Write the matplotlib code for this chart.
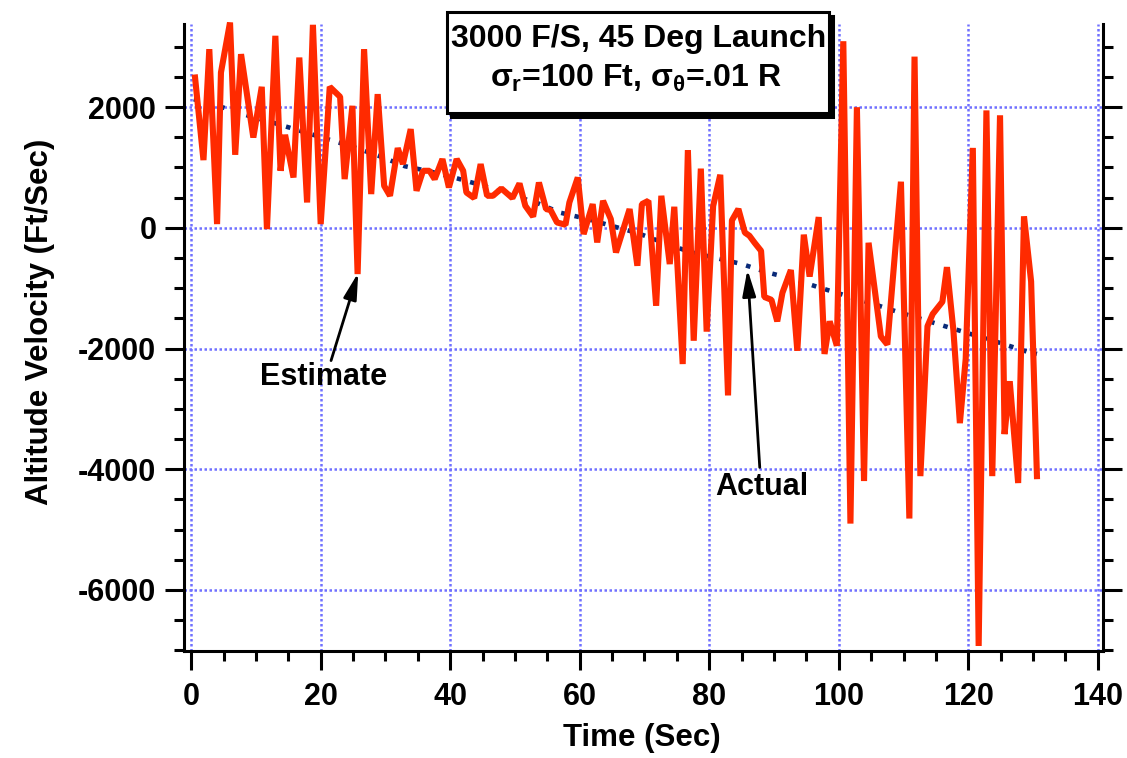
import matplotlib
matplotlib.use('Agg')
import matplotlib.pyplot as plt
from matplotlib.patches import Rectangle
from matplotlib.ticker import MultipleLocator

plt.rcParams['font.family'] = 'Liberation Sans'
plt.rcParams['font.weight'] = 'bold'
plt.rcParams['axes.unicode_minus'] = False
plt.rcParams['mathtext.fontset'] = 'custom'
plt.rcParams['mathtext.rm'] = 'Liberation Sans:bold'
plt.rcParams['mathtext.it'] = 'Liberation Sans:bold'
plt.rcParams['mathtext.bf'] = 'Liberation Sans:bold'

# actual altitude velocity (noisy)
t_act = [0.6, 1.9, 2.8, 4.0, 4.6, 6.0, 6.8, 7.7, 9.6, 10.9, 11.7, 13.0, 13.8, 14.5,
         15.8, 16.7, 17.9, 18.8, 20.0, 21.4, 23.0, 23.7, 24.9, 25.7, 26.7,
         27.8, 28.8, 29.8, 30.7, 31.9, 32.7, 33.9, 34.8, 35.8, 36.8, 37.6, 38.8,
         39.8, 41.0, 42.0, 42.5, 43.7, 44.7, 45.7, 46.6, 47.9, 49.6, 50.7, 51.6,
         52.8, 53.7, 54.8, 55.5, 56.5, 57.8, 58.4, 59.7, 60.6, 62.0, 62.7, 63.6,
         64.8, 65.6, 67.7, 68.9, 69.6, 70.6, 71.8, 72.6, 73.9, 74.6, 75.9, 76.7,
         77.6, 78.7, 79.6, 80.6, 81.7, 82.9, 83.5, 84.5, 85.5, 86.2, 87.0, 88.0,
         88.5, 89.6, 90.5, 91.3, 92.6, 93.6, 94.6, 95.5, 96.9, 97.8, 98.6, 99.7,
         100.7, 101.8, 102.8, 103.9, 104.6, 106.5, 107.5, 109.6, 110.9, 111.7,
         112.6, 113.7, 114.5, 116.0, 116.7, 117.7, 118.7, 119.6, 120.7, 121.6,
         122.8, 123.7, 124.9, 125.6, 126.4, 127.7, 128.6, 129.7, 130.6]
v_act = [2489, 1121, 2959, 61, 2572, 3400, 1209, 2876, 1495, 2335, -22, 3180, 944, 1540,
         833, 2820, 419, 3362, 61, 2335, 2169, 806, 2020, -767, 2959,
         558, 2214, 695, 530, 1320, 1055, 1634, 613, 944, 944, 806, 1138,
         668, 1138, 944, 585, 492, 1055, 530, 530, 651, 492, 734, 364,
         185, 750, 310, 293, 88, 50, 419, 833, -105, 392, -243, 447,
         144, -409, 310, -629, 392, 447, -1292, 530, -601, 348, -2257, 1287,
         -1871, 980, -1720, 359, 878, -2777, 122, 311, -80, -132, -248, -382,
         -1146, -1193, -1550, -1077, -700, -2037, -114, -808, 177, -2090, -1550, -1954,
         3090, -4900, 1997, -4195, -248, -1800, -1934, 763, -4816, 2835,
         -4114, -1631, -1429, -1225, -652, -1699, -3236, -2170, 1323, -6927,
         1944, -4114, 1863, -3418, -2542, -4228, 190, -889, -4114]

# filter estimate
t_est = [0.4, 5, 9, 13, 17, 21, 25, 29, 33, 37, 41, 45, 49, 53, 57, 61, 65, 69,
         73, 77, 81, 85, 89, 93, 97, 101, 105, 109, 113, 117, 121, 125, 129, 130.6]
v_est = [2130, 1990, 1850, 1730, 1600, 1470, 1340, 1190, 1020, 930, 820, 700, 550,
         430, 250, 150, 30, -90, -250, -400, -500, -600, -740, -850, -990, -1120,
         -1250, -1390, -1520, -1650, -1780, -1910, -2050, -2090]

x_ticks = [0, 20, 40, 60, 80, 100, 120, 140]
y_ticks = [-6000, -4000, -2000, 0, 2000]

fig = plt.figure(figsize=(11.27, 7.58), dpi=100)
ax = fig.add_axes([0.1633, 0.1412, 0.8154, 0.8271])

ax.plot(t_est, v_est, color='#0a2a78', lw=3.3, linestyle=(0, (1, 2.0)),
        dash_capstyle='butt', zorder=2)
ax.plot(t_act, v_act, color='#ff2a00', lw=4.4, solid_joinstyle='bevel',
        clip_on=False, zorder=3)

ax.set_xlim(-1.1, 140.8)
ax.set_ylim(-7010, 3375)
ax.set_xticks(x_ticks)
ax.set_yticks(y_ticks)
ax.xaxis.set_minor_locator(MultipleLocator(5))
ax.yaxis.set_minor_locator(MultipleLocator(500))

ax.set_axisbelow(True)
ax.grid(True, which='major', color='#7070ff', linestyle=(0, (1, 1)), linewidth=1.8)

ax.spines['top'].set_visible(False)
for s in ['left', 'right', 'bottom']:
    ax.spines[s].set_linewidth(2.2)
ax.tick_params(which='major', direction='out', length=14, width=2.2, labelsize=22)
ax.tick_params(which='minor', direction='out', length=7, width=2.2)
ax.tick_params(axis='y', which='both', right=True, labelright=False, pad=6)
ax.tick_params(axis='x', which='both', top=False, pad=8)

ax.set_xlabel('Time (Sec)', fontsize=22.5, fontweight='bold', va='center')
ax.xaxis.set_label_coords(0.498, -0.139)
ax.set_ylabel('Altitude Velocity (Ft/Sec)', fontsize=22.5, fontweight='bold', va='center')
ax.yaxis.set_label_coords(-0.157, 0.525)

# annotations
arrow = dict(arrowstyle='-|>,head_length=0.8,head_width=0.2', color='black', lw=2,
             mutation_scale=20, shrinkA=0, shrinkB=0)
ax.annotate('', xy=(25.8, -745), xytext=(21.6, -2200), arrowprops=arrow)
ax.text(20.4, -2467, 'Estimate', ha='center', va='center', fontsize=22, fontweight='bold')
ax.annotate('', xy=(85.9, -690), xytext=(87.8, -3970), arrowprops=arrow)
ax.text(88.1, -4290, 'Actual', ha='center', va='center', fontsize=22, fontweight='bold')

# title box with drop shadow
W, H = 1127, 758
bx, by, bw, bh = 447 / W, 1 - 113 / H, (829 - 447) / W, (113 - 12) / H
fig.add_artist(Rectangle((bx + 4 / W, by - 4 / H), bw, bh, transform=fig.transFigure,
                         facecolor='black', edgecolor='black', lw=2.2, zorder=5))
fig.add_artist(Rectangle((bx, by), bw, bh, transform=fig.transFigure,
                         facecolor='white', edgecolor='black', lw=2.2, zorder=6))
fig.text(639 / W, 1 - 47 / H, '3000 F/S, 45 Deg Launch', ha='center', va='baseline',
         fontsize=23, fontweight='bold', zorder=7)
fig.text(636 / W, 1 - 87 / H, r'$\sigma_{r}$=100 Ft, $\sigma_{\theta}$=.01 R',
         ha='center', va='baseline', fontsize=23, fontweight='bold', zorder=7)

fig.savefig('out.png', dpi=100)
